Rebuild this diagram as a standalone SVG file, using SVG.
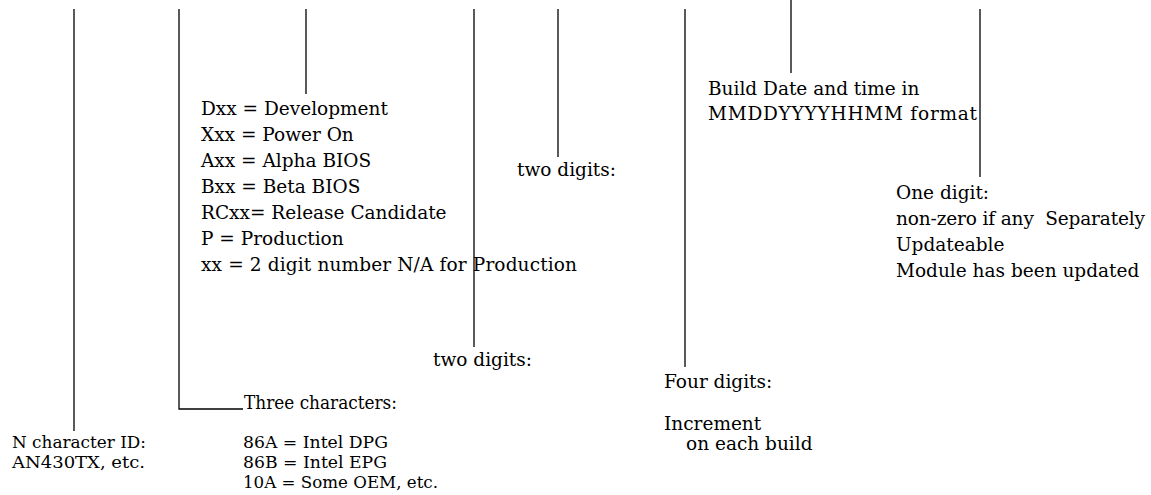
<svg xmlns="http://www.w3.org/2000/svg" width="1151" height="495" viewBox="0 0 1151 495">
  <style>
    .lbl { font-family: "DejaVu Serif", "Liberation Serif", serif; font-size: 18.5px; fill: #000; }
    .tight { font-size: 17px; }
    .pre { white-space: pre; }
    .lead { stroke: #000; stroke-width: 1.3; fill: none; }
  </style>
  <rect width="1151" height="495" fill="#fff"/>

  <!-- leader lines from each field of the version string -->
  <g id="connectors">
    <line class="lead" x1="74" y1="9" x2="74" y2="431"/>
    <polyline class="lead" points="179,9 179,409 243,409"/>
    <line class="lead" x1="306" y1="9" x2="306" y2="94"/>
    <line class="lead" x1="474" y1="9" x2="474" y2="347"/>
    <line class="lead" x1="558" y1="9" x2="558" y2="157"/>
    <line class="lead" x1="685" y1="9" x2="685" y2="367"/>
    <line class="lead" x1="791" y1="0" x2="791" y2="73"/>
    <line class="lead" x1="980" y1="9" x2="980" y2="177"/>
  </g>

  <g id="board-id">
    <text class="lbl tight" x="12" y="448" textLength="134" lengthAdjust="spacingAndGlyphs">N character ID:</text>
    <text class="lbl tight" x="12" y="468" textLength="133" lengthAdjust="spacingAndGlyphs">AN430TX, etc.</text>
  </g>

  <g id="oem-id">
    <text class="lbl" x="244" y="409" textLength="153" lengthAdjust="spacingAndGlyphs">Three characters:</text>
    <text class="lbl tight" x="243" y="448" textLength="145" lengthAdjust="spacingAndGlyphs">86A = Intel DPG</text>
    <text class="lbl tight" x="243" y="468" textLength="144" lengthAdjust="spacingAndGlyphs">86B = Intel EPG</text>
    <text class="lbl tight" x="243" y="488" textLength="195" lengthAdjust="spacingAndGlyphs">10A = Some OEM, etc.</text>
  </g>

  <g id="release-type">
    <text class="lbl" x="201" y="115">Dxx = Development</text>
    <text class="lbl" x="201" y="141">Xxx = Power On</text>
    <text class="lbl" x="201" y="167">Axx = Alpha BIOS</text>
    <text class="lbl" x="201" y="193">Bxx = Beta BIOS</text>
    <text class="lbl" x="201" y="219">RCxx= Release Candidate</text>
    <text class="lbl" x="201" y="245">P = Production</text>
    <text class="lbl" x="201" y="271" textLength="376" lengthAdjust="spacing">xx = 2 digit number N/A for Production</text>
  </g>

  <g id="major-version">
    <text class="lbl" x="433" y="366">two digits:</text>
  </g>

  <g id="minor-version">
    <text class="lbl" x="517" y="176">two digits:</text>
  </g>

  <g id="build-number">
    <text class="lbl" x="664" y="388">Four digits:</text>
    <text class="lbl" x="664" y="430">Increment</text>
    <text class="lbl" x="686" y="450">on each build</text>
  </g>

  <g id="build-date">
    <text class="lbl" x="708" y="95">Build Date and time in</text>
    <text class="lbl" x="708" y="120" textLength="269" lengthAdjust="spacing">MMDDYYYYHHMM format</text>
  </g>

  <g id="update-flag">
    <text class="lbl" x="896" y="199">One digit:</text>
    <text class="lbl pre" x="896" y="225" textLength="249" lengthAdjust="spacing">non-zero if any  Separately</text>
    <text class="lbl" x="896" y="251">Updateable</text>
    <text class="lbl" x="896" y="277">Module has been updated</text>
  </g>
</svg>
